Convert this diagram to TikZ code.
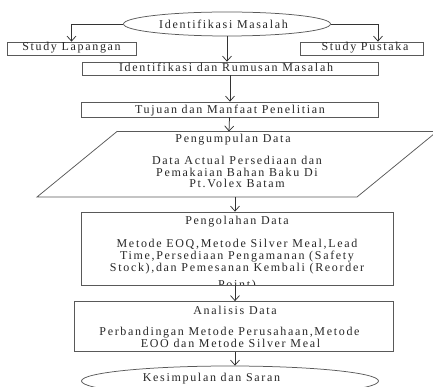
\documentclass[tikz,border=0pt]{standalone}
\usepackage{fontspec}
\setmainfont{Liberation Serif}[LetterSpace=14]
\usetikzlibrary{arrows.meta,shapes.geometric}
\newcommand{\diafont}{\fontsize{12}{13}\selectfont}
\begin{document}
\begin{tikzpicture}[x=1pt,y=-1pt,
  lc/.style={draw=black!65,line width=0.75pt},
  box/.style={lc,rectangle,inner sep=0pt},
  ellip/.style={lc,ellipse,inner sep=0pt},
  txt/.style={inner sep=0pt,anchor=base,font=\diafont,text=black!85},
  arr/.style={draw=black!80,line width=0.75pt,-{Straight Barb[length=5pt,width=9pt]}}]
\useasboundingbox (0,0) rectangle (433,387);
\clip (0,0) rectangle (433,387);

% shapes
\node[ellip,minimum width=207,minimum height=24] (idm) at (227,24) {};
\node[box,minimum width=129,minimum height=13] (lap) at (71.5,48.5) {};
\node[box,minimum width=123,minimum height=13] (pus) at (361.5,48.5) {};
\node[box,minimum width=296,minimum height=13] (rum) at (230,68.5) {};
\node[box,minimum width=297,minimum height=15] (tuj) at (229.5,109.5) {};
\coordinate (pbl) at (37,197);
\coordinate (pbr) at (357,197);
\coordinate (ptr) at (437,131.5);
\coordinate (ptl) at (117,131.5);
\draw[lc] (pbl) -- (ptl) -- (ptr) -- (pbr) -- cycle;
\node[box,minimum width=312,minimum height=73] (olah) at (237,248.5) {};
\node[box,minimum width=319,minimum height=50] (anal) at (233.5,326.5) {};
\node[ellip,minimum width=297,minimum height=30] (kes) at (230,381) {};

% texts
\node[txt] (idmT) at (223.5,29) {Identifikasi Masalah};
\node[txt] (lapT) at (71.5,51) {Study Lapangan};
\node[txt] (pusT) at (365,51) {Study Pustaka};
\node[txt] (rumT) at (226,71.7) {Identifikasi dan Rumusan Masalah};
\node[txt] (tujT) at (230,114) {Tujuan dan Manfaat Penelitian};
\node[txt] (pg0) at (233,143) {Pengumpulan Data};
\node[txt] (pg1) at (237,164.7) {Data Actual Persediaan dan};
\node[txt] (pg2) at (237,176.3) {Pemakaian Bahan Baku Di};
\node[txt] (pg3) at (237,188) {Pt.Volex Batam};
\node[txt] (ol0) at (237,224) {Pengolahan Data};
\node[txt] (ol1) at (237,247) {Metode EOQ,Metode Silver Meal,Lead};
\node[txt] (ol2) at (237,259.3) {Time,Persediaan Pengamanan (Safety};
\node[txt] (ol3) at (237,271.6) {Stock),dan Pemesanan Kembali (Reorder};
\begin{scope}
\clip (81,212) rectangle (393,284.6);
\node[txt] (ol4) at (237,288.5) {Point)};
\end{scope}
\node[txt] (an0) at (235,314.7) {Analisis Data};
\node[txt] (an1) at (229.5,335.3) {Perbandingan Metode Perusahaan,Metode};
\node[txt] (an2) at (230.5,347.3) {EOO dan Metode Silver Meal};
\node[txt] (kesT) at (211.5,381) {Kesimpulan dan Saran};

% connectors
\coordinate (ax) at (235,0);
\coordinate (pt) at (229,131.5);
\coordinate (pb) at (235,197);
\draw[arr] (idm.west) -| (lap.north);
\draw[arr] (idm.east) -| ([xshift=16.5pt]pus.north);
\draw[arr] (idm.south) -- (idm.south |- rum.north);
\draw[arr] (rum.south) -- (rum.south |- tuj.north);
\draw[arr] (tuj.south) -- (pt);
\draw[arr] (pb) -- (pb |- olah.north);
\draw[arr] (olah.south -| ax) -- (anal.north -| ax);
\draw[arr] (anal.south -| ax) -- (kes.north -| ax);
\end{tikzpicture}
\end{document}
